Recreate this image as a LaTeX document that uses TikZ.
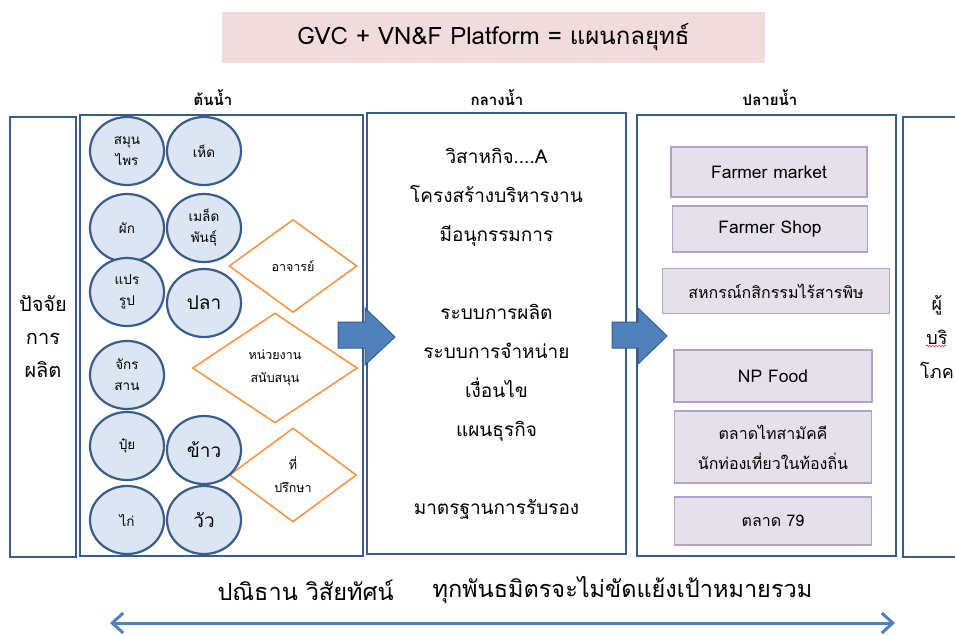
\documentclass[tikz,border=0pt]{standalone}
\usepackage{fontspec}
\setmainfont{Loma}[Script=Thai]
\usetikzlibrary{shapes.geometric,arrows.meta,decorations.pathmorphing}
\definecolor{boxblue}{RGB}{56,93,138}
\definecolor{cropfill}{RGB}{220,230,242}
\definecolor{helperorange}{RGB}{247,150,70}
\definecolor{arrowblue}{RGB}{79,129,189}
\definecolor{outletfill}{RGB}{229,224,236}
\definecolor{outletline}{RGB}{179,162,199}
\definecolor{titlepink}{RGB}{242,220,219}
\begin{document}
\begin{tikzpicture}[x=1pt,y=-1pt,
    stage/.style={draw=boxblue,line width=2.5pt,inner sep=0pt,align=center},
    crop/.style={ellipse,draw=boxblue,line width=2.2pt,fill=cropfill,minimum width=74pt,minimum height=68pt,inner sep=0pt,align=center,font=\fontsize{13.5}{21}\selectfont},
    bigcrop/.style={crop,font=\fontsize{19}{21}\selectfont},
    helper/.style={diamond,draw=helperorange,line width=1.6pt,fill=white,inner sep=0pt,align=center,font=\fontsize{12.5}{23}\selectfont},
    outlet/.style={draw=outletline,line width=1.8pt,fill=outletfill,inner sep=0pt,align=center,font=\fontsize{16}{30}\selectfont},
    latin/.style={font=\fontsize{17.5}{30}\selectfont},
    bigarrow/.style={fill=arrowblue,draw=boxblue,line width=1pt},
    header/.style={font=\fontsize{15}{17}\selectfont\bfseries}]
  \useasboundingbox (0,0) rectangle (955,635);

  % Title
  \node[fill=titlepink,minimum width=543pt,minimum height=51pt,font=\fontsize{24}{28}\selectfont] (title) at (493.5,37.5) {GVC + VN\&F Platform = แผนกลยุทธ์};

  % Stages
  \node[stage,minimum width=66pt,minimum height=440pt,font=\fontsize{20}{33}\selectfont] (inputs) at (43,337) {ปัจจัย\\การ\\ผลิต};
  \node[stage,minimum width=283pt,minimum height=441pt] (upstream) at (221.5,335.5) {};
  \node[stage,minimum width=259pt,minimum height=441pt,font=\fontsize{19}{39}\selectfont] (midstream) at (496.5,333.5) {วิสาหกิจ....A\\โครงสร้างบริหารงาน\\มีอนุกรรมการ\\[39pt]ระบบการผลิต\\ระบบการจำหน่าย\\เงื่อนไข\\แผนธุรกิจ\\[39pt]มาตรฐานการรับรอง};
  \node[stage,minimum width=259pt,minimum height=441pt] (downstream) at (766.5,335.5) {};
  \node[stage,minimum width=68pt,minimum height=440pt,font=\fontsize{18}{34}\selectfont] (consumer) at (937,337) {ผู้\\บริ\\โภค};
  \draw[red,decorate,decoration={snake,amplitude=1pt,segment length=3pt}] (926,346) -- (947,346);

  % Headers
  \node[header] (upname) at (213,98) {ต้นน้ำ};
  \node[header] (midname) at (497,98) {กลางน้ำ};
  \node[header] (downname) at (770,98) {ปลายน้ำ};

  % Support units
  \node[helper,minimum width=128pt,minimum height=93pt] (teacher) at (293,266) {อาจารย์};
  \node[helper,minimum width=165pt,minimum height=110pt] (agency) at (275,368) {หน่วยงาน\\สนับสนุน};
  \node[helper,minimum width=127pt,minimum height=94pt] (advisor) at (293,475) {ที่\\ปรึกษา};

  % Products
  \node[crop] (herb) at (127,151) {สมุน\\ไพร};
  \node[crop] (mushroom) at (204,151) {เห็ด};
  \node[crop] (veg) at (127,228) {ผัก};
  \node[crop] (seed) at (204,228) {เมล็ด\\พันธุ์};
  \node[crop] (process) at (127,292) {แปร\\รูป};
  \node[bigcrop] (fish) at (204,303) {ปลา};
  \node[crop] (weave) at (127,375) {จักร\\สาน};
  \node[crop] (fert) at (127,446) {ปุ๋ย};
  \node[bigcrop] (rice) at (204,450) {ข้าว};
  \node[crop] (hen) at (127,520) {ไก่};
  \node[bigcrop] (cow) at (204,520) {วัว};

  % Outlets
  \node[outlet,latin,minimum width=196pt,minimum height=50pt] (market) at (769,172) {Farmer market};
  \node[outlet,latin,minimum width=195pt,minimum height=46pt] (shop) at (770,229) {Farmer Shop};
  \node[outlet,minimum width=227pt,minimum height=45pt] (coop) at (776,291) {สหกรณ์กสิกรรมไร้สารพิษ};
  \node[outlet,latin,minimum width=198pt,minimum height=52pt] (npfood) at (773,376) {NP Food};
  \node[outlet,minimum width=197pt,minimum height=72pt] (unity) at (773,447) {ตลาดไทสามัคคี\\นักท่องเที่ยวในท้องถิ่น};
  \node[outlet,minimum width=197pt,minimum height=48pt] (m79) at (773,521) {ตลาด 79};

  % Flow arrows
  \draw[bigarrow] (338,322) -- (365,322) -- (365,308) -- (395,337) -- (365,365) -- (365,348) -- (338,348) -- cycle;
  \draw[bigarrow] (612,322) -- (638,322) -- (638,308) -- (667,336) -- (638,364) -- (638,348) -- (612,348) -- cycle;

  % Shared goal
  \node[anchor=west,font=\fontsize{23.5}{26}\selectfont] (vision) at (214,590) {ปณิธาน วิสัยทัศน์};
  \node[anchor=west,font=\fontsize{23.5}{26}\selectfont] (goal) at (429,590) {ทุกพันธมิตรจะไม่ขัดแย้งเป้าหมายรวม};
  \coordinate (west) at (110,623);
  \coordinate (east) at (895,623);
  \draw[arrowblue,line width=3pt,{Straight Barb[length=11pt,width=20pt]}-{Straight Barb[length=11pt,width=20pt]}] (west) -- (east);
\end{tikzpicture}
\end{document}
